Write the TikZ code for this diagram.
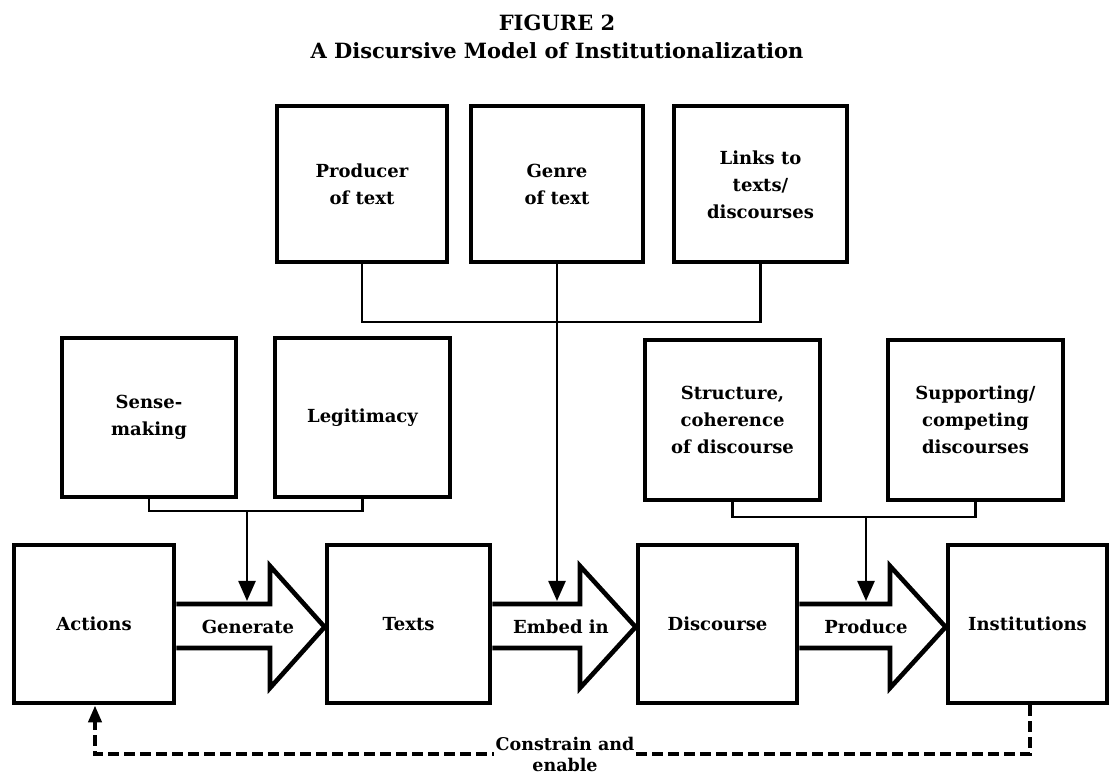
\documentclass[tikz,border=0pt]{standalone}
\usepackage{fontspec}
\setmainfont{DejaVu Serif}
\usetikzlibrary{arrows.meta,calc}
\begin{document}
\begin{tikzpicture}[x=1pt,y=1pt,
  every node/.style={font=\bfseries\fontsize{18}{27}\selectfont, align=center},
  box/.style={draw, line width=4pt, inner sep=0pt, minimum height=156pt},
  mainbox/.style={draw, line width=4.8pt, inner sep=0pt, minimum height=158pt, minimum width=160pt},
  link/.style={line width=2.4pt},
  downarrow/.style={line width=2.4pt, -{Triangle[length=20pt,width=17pt]}},
  bigarrow/.style={line width=4.6pt, line join=miter},
  feedback/.style={line width=4pt, dash pattern=on 11pt off 5pt, -{Triangle[length=17pt,width=13pt]}},
  lbl/.style={font=\bfseries\fontsize{17.5}{21}\selectfont},
  ttl/.style={font=\bfseries\fontsize{21}{24}\selectfont}
]
\useasboundingbox (0,0) rectangle (1111,776);
\fill[white] (0,0) rectangle (1111,776);

% title
\node[ttl] (title) at (557,753) {FIGURE 2};
\node[ttl] (subtitle) at (557,725) {A Discursive Model of Institutionalization};

% top row
\node[box, minimum width=170pt] (prod) at (362,591.5) {Producer\\of text};
\node[box, minimum width=172pt] (genre) at (557,591.5) {Genre\\of text};
\node[box, minimum width=173pt] (links) at (760.5,591.5) {Links to\\texts/\\discourses};

% middle row
\node[box, minimum width=174pt, minimum height=159pt] (sense) at (149,358.5) {Sense-\\making};
\node[box, minimum width=175pt, minimum height=159pt] (legit) at (362.5,358.5) {Legitimacy};
\node[box, minimum width=175pt, minimum height=160pt] (struct) at (732.5,356) {Structure,\\coherence\\of discourse};
\node[box, minimum width=175pt, minimum height=160pt] (supp) at (975.5,356) {Supporting/\\competing\\discourses};

% bottom row
\node[mainbox] (actions) at (94,152) {Actions};
\node[mainbox, minimum width=163pt] (texts) at (408.5,152) {Texts};
\node[mainbox, minimum width=159pt] (disc) at (717.5,152) {Discourse};
\node[mainbox, minimum width=159pt] (inst) at (1027.5,152) {Institutions};

% big block arrows
\draw[bigarrow] (actions.east |- 0,172) -- (270,172) -- (270,210) -- (texts.west |- 0,149) -- (270,88) -- (270,128) -- (actions.east |- 0,128);
\node (gen) at (248,149) {Generate};
\draw[bigarrow] (texts.east |- 0,172) -- (580,172) -- (580,210) -- (disc.west |- 0,149) -- (580,88) -- (580,128) -- (texts.east |- 0,128);
\node (emb) at (561,149) {Embed in};
\draw[bigarrow] (disc.east |- 0,172) -- (890,172) -- (890,210) -- (inst.west |- 0,149) -- (890,88) -- (890,128) -- (disc.east |- 0,128);
\node (prodc) at (866,149) {Produce};

% coordinates for connectors
\coordinate (t1) at (247,175);
\coordinate (t2) at (557,175);
\coordinate (t3) at (866,175);

% top bracket
\draw[link] (prod.south) -- (prod.south |- 0,454) -- (links.south |- 0,454) -- (links.south);
\draw[downarrow] (genre.south) -- (t2);

% left bracket
\draw[link] (sense.south) -- (sense.south |- 0,265) -- (legit.south |- 0,265) -- (legit.south);
\draw[downarrow] (t1 |- 0,265) -- (t1);

% right bracket
\draw[link] (struct.south) -- (struct.south |- 0,259) -- (supp.south |- 0,259) -- (supp.south);
\draw[downarrow] (t3 |- 0,259) -- (t3);

% feedback loop
\coordinate (fb1) at (1030,22);
\coordinate (fb2) at (95,22);
\draw[feedback] (inst.south -| fb1) -- (fb1) -- (fb2) -- (actions.south -| fb2);
\node[lbl, fill=white, inner sep=1.5pt] (constrain) at (565,22) {Constrain and\\enable};
\end{tikzpicture}
\end{document}
